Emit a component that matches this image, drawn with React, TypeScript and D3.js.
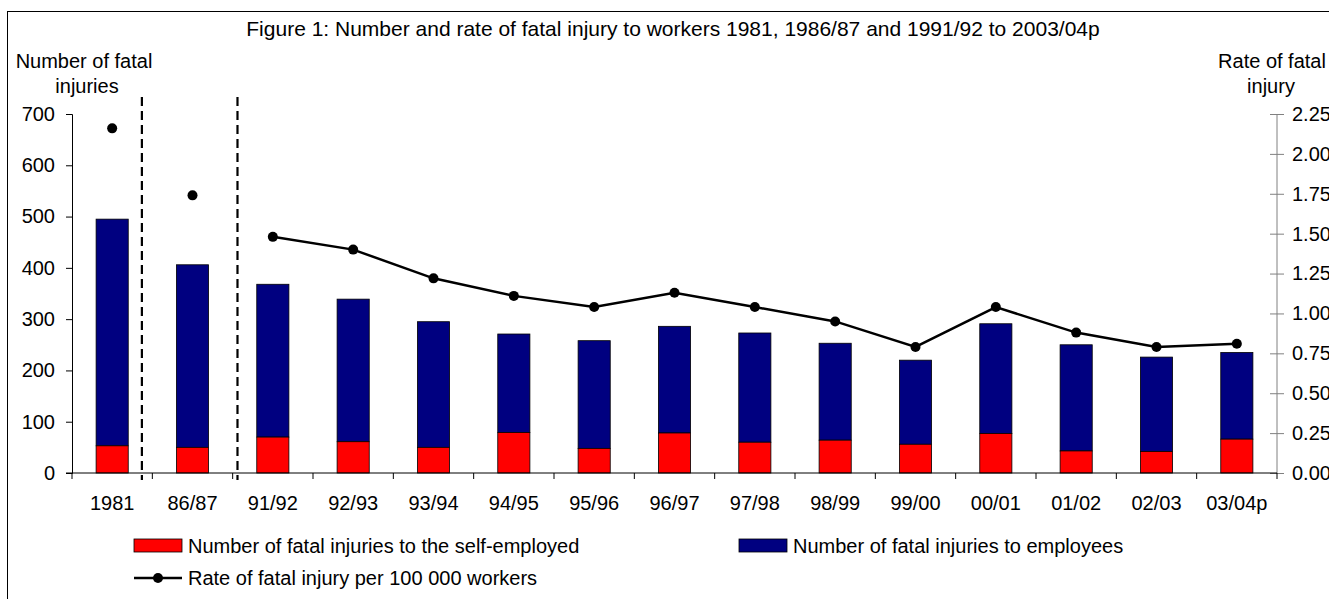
import React, { useEffect, useRef } from 'react';
import * as d3 from 'd3';

const width = 1329;
const height = 599;
const padding = { left: 72, right: 52, top: 114, down: 126 };

const categories = ['1981', '86/87', '91/92', '92/93', '93/94', '94/95', '95/96', '96/97', '97/98', '98/99', '99/00', '00/01', '01/02', '02/03', '03/04p'];
const selfEmployed = [53, 50, 70, 61, 50, 79, 48, 78, 60, 64, 56, 77, 43, 42, 66];
const employees = [442, 356, 298, 278, 245, 192, 210, 208, 213, 189, 164, 214, 207, 184, 169];
const rate = [2.16, 1.74, 1.48, 1.40, 1.22, 1.11, 1.04, 1.13, 1.04, 0.95, 0.79, 1.04, 0.88, 0.79, 0.81];
// the line only joins the yearly series, 1981 and 86/87 stand alone
const lineStart = 2;
// dashed separators, in band units from the left of the axis
const separators = [0.87, 2.06];

const leftTicks = [0, 100, 200, 300, 400, 500, 600, 700];
const rightTicks = [0, 0.25, 0.5, 0.75, 1, 1.25, 1.5, 1.75, 2, 2.25];

const title = 'Figure 1: Number and rate of fatal injury to workers 1981, 1986/87 and 1991/92 to 2003/04p';
const legendItems = ['Number of fatal injuries to the self-employed', 'Number of fatal injuries to employees', 'Rate of fatal injury per 100 000 workers'];

const red = '#ff0000';
const navy = '#000080';
const font = 'Liberation Sans, Arial, sans-serif';

export default function App() {
  const ref = useRef<SVGSVGElement>(null);

  useEffect(() => {
    const svg = d3.select(ref.current);
    svg.selectAll('*').remove();
    svg.attr('width', width).attr('height', height)
      .style('font-family', font);

    const x0 = padding.left;
    const x1 = width - padding.right;
    const yBase = height - padding.down;

    const xScale = d3.scaleBand<string>()
      .domain(categories)
      .range([x0, x1])
      .paddingInner(0.6)
      .paddingOuter(0.3);

    const bandStep = (x1 - x0) / categories.length;

    const yScale = d3.scaleLinear().domain([0, 700]).range([yBase, padding.top]);
    const rScale = d3.scaleLinear().domain([0, 2.25]).range([yBase, padding.top]);

    // outer frame
    svg.append('rect')
      .attr('x', 7.5).attr('y', 11.5)
      .attr('width', width).attr('height', height)
      .attr('fill', 'none').attr('stroke', '#000').attr('stroke-width', 1);

    // title
    svg.append('text')
      .attr('x', 673).attr('y', 36)
      .attr('text-anchor', 'middle')
      .style('font-size', '21px')
      .text(title);

    // axis titles
    const leftTitle = svg.append('text').attr('text-anchor', 'middle').style('font-size', '20px');
    leftTitle.append('tspan').attr('x', 84).attr('y', 68).text('Number of fatal');
    leftTitle.append('tspan').attr('x', 87).attr('y', 93).text('injuries');

    const rightTitle = svg.append('text').attr('text-anchor', 'middle').style('font-size', '20px');
    rightTitle.append('tspan').attr('x', 1272).attr('y', 68).text('Rate of fatal');
    rightTitle.append('tspan').attr('x', 1271).attr('y', 93).text('injury');

    // bars
    const stack = categories.map((c, i) => ({ c, self: selfEmployed[i], emp: employees[i] }));
    const barG = svg.append('g');
    barG.selectAll('.emp')
      .data(stack)
      .enter()
      .append('rect')
      .attr('x', d => xScale(d.c)!)
      .attr('width', xScale.bandwidth())
      .attr('y', d => yScale(d.self + d.emp))
      .attr('height', d => yScale(d.self) - yScale(d.self + d.emp))
      .attr('fill', navy)
      .attr('stroke', '#000')
      .attr('stroke-width', 0.8);
    barG.selectAll('.self')
      .data(stack)
      .enter()
      .append('rect')
      .attr('x', d => xScale(d.c)!)
      .attr('width', xScale.bandwidth())
      .attr('y', d => yScale(d.self))
      .attr('height', d => yBase - yScale(d.self))
      .attr('fill', red)
      .attr('stroke', '#000')
      .attr('stroke-width', 0.8);

    // left axis
    const yAxisG = svg.append('g').attr('transform', `translate(${x0}, 0)`);
    yAxisG.call(d3.axisLeft(yScale).tickValues(leftTicks).tickSize(6).tickPadding(11).tickFormat(d3.format('d')));
    yAxisG.select('.domain').attr('stroke', '#000');
    yAxisG.selectAll('text').style('font-size', '20px').style('font-family', font).attr('fill', '#000');

    // right axis, ticks cross the line
    const rAxisG = svg.append('g').attr('transform', `translate(${x1}, 0)`);
    rAxisG.call(d3.axisRight(rScale).tickValues(rightTicks).tickSize(7).tickPadding(8).tickFormat(d3.format('.2f')));
    rAxisG.select('.domain').attr('stroke', '#808080').attr('d', `M0,${padding.top}V${yBase}`);
    rAxisG.selectAll('.tick line').attr('x1', -7).attr('stroke', '#808080');
    rAxisG.selectAll('text').style('font-size', '20px').style('font-family', font).attr('fill', '#000');

    // x axis, ticks sit on the band boundaries
    const xAxisG = svg.append('g');
    xAxisG.append('line')
      .attr('x1', x0 - 6).attr('x2', x1)
      .attr('y1', yBase).attr('y2', yBase)
      .attr('stroke', '#000');
    xAxisG.selectAll('.xtick')
      .data(d3.range(categories.length + 1))
      .enter()
      .append('line')
      .attr('x1', i => x0 + i * bandStep).attr('x2', i => x0 + i * bandStep)
      .attr('y1', yBase).attr('y2', yBase + 6)
      .attr('stroke', '#000');
    xAxisG.selectAll('.xlabel')
      .data(categories)
      .enter()
      .append('text')
      .attr('x', d => xScale(d)! + xScale.bandwidth() / 2)
      .attr('y', 510)
      .attr('text-anchor', 'middle')
      .style('font-size', '20px')
      .text(d => d);

    // dashed separators between the non-yearly points
    svg.selectAll('.sep')
      .data(separators)
      .enter()
      .append('line')
      .attr('x1', d => x0 + d * bandStep).attr('x2', d => x0 + d * bandStep)
      .attr('y1', 97).attr('y2', yBase + 7)
      .attr('stroke', '#000')
      .attr('stroke-width', 2.2)
      .attr('stroke-dasharray', '9,5');

    // rate line
    const cx = (c: string) => xScale(c)! + xScale.bandwidth() / 2;
    const line = d3.line<number>()
      .x(i => cx(categories[i]))
      .y(i => rScale(rate[i]));
    svg.append('path')
      .attr('d', line(d3.range(lineStart, categories.length)))
      .attr('fill', 'none')
      .attr('stroke', '#000')
      .attr('stroke-width', 2.5);
    svg.selectAll('.dot')
      .data(rate)
      .enter()
      .append('circle')
      .attr('cx', (d, i) => cx(categories[i]))
      .attr('cy', d => rScale(d))
      .attr('r', 5)
      .attr('fill', '#000');

    // legend
    const legend = svg.append('g').style('font-size', '20px');
    const swatches = [
      { x: 134, y: 539, color: red, label: legendItems[0] },
      { x: 739, y: 539, color: navy, label: legendItems[1] },
    ];
    swatches.forEach(s => {
      legend.append('rect')
        .attr('x', s.x).attr('y', s.y)
        .attr('width', 48).attr('height', 13)
        .attr('fill', s.color)
        .attr('stroke', '#000').attr('stroke-width', 0.8);
      legend.append('text')
        .attr('x', s.x + 54).attr('y', s.y + 14)
        .text(s.label);
    });
    legend.append('line')
      .attr('x1', 134).attr('x2', 182)
      .attr('y1', 578).attr('y2', 578)
      .attr('stroke', '#000').attr('stroke-width', 2.5);
    legend.append('circle')
      .attr('cx', 158).attr('cy', 578).attr('r', 5).attr('fill', '#000');
    legend.append('text')
      .attr('x', 188).attr('y', 585)
      .text(legendItems[2]);
  }, []);

  return <svg ref={ref} style={{ position: 'absolute', left: 0, top: 0, display: 'block', background: '#fff' }}></svg>;
}
